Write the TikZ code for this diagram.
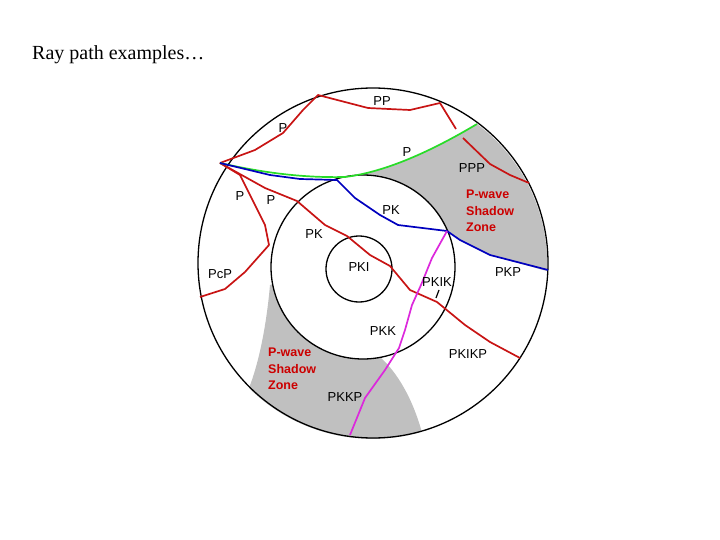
\documentclass[tikz,border=0pt]{standalone}
\usepackage{fontspec}
\setmainfont{Liberation Sans}
\newfontfamily\titlefont{Liberation Serif}
\begin{document}
\begin{tikzpicture}[x=1pt,y=-1pt,
  ray/.style={line width=1.7pt,line join=round},
  lbl/.style={font=\fontsize{13}{14}\selectfont,inner sep=0pt},
  sz/.style={font=\bfseries\fontsize{12.5}{16.5}\selectfont,text=red!80!black,align=left,inner sep=0pt}]
\useasboundingbox (0,0) rectangle (720,540);
\definecolor{rr}{RGB}{200,20,20}
\definecolor{bb}{RGB}{0,0,190}
\definecolor{gg}{RGB}{40,220,40}
\definecolor{mm}{RGB}{220,40,220}
\definecolor{gz}{RGB}{192,192,192}
\coordinate (C) at (373,263);
\coordinate (K) at (363,267);
% upper shadow zone
\fill[gz] (345,177) .. controls (385,172) and (430,152) .. (477,124)
  arc[start angle=-53.2,end angle=2.3,radius=175]
  -- (490,255) -- (460,240) -- (447,231)
  arc[start angle=-23.2,end angle=-101.3,radius=92] -- cycle;
% lower shadow zone
\fill[gz] (270,285) .. controls (266,330) and (258,365) .. (249,388)
  arc[start angle=134.8,end angle=73.6,radius=175]
  .. controls (413,400) and (398,373) .. (380,357)
  arc[start angle=79.3,end angle=169,radius=92] -- cycle;
\draw[line width=1.3pt] (C) circle[radius=175];
\draw[line width=1.3pt] (K) circle[radius=92];
\draw[line width=1.3pt] (359,269) circle[radius=33];
\coordinate (S) at (220,163);
% red rays
\draw[ray,rr] (S) -- (255,150) -- (283,133) -- (303,110) -- (318,95)
  -- (368,108) -- (410,110) -- (440,103) -- (456,129);
\draw[ray,rr] (463,138) -- (490,164) -- (510,175) -- (529,183);
\draw[ray,rr] (S) -- (265,188) -- (297,201) -- (325,225) -- (347,236) -- (370,255)
  -- (390,266) -- (410,290) -- (437,302) -- (465,325) -- (490,342) -- (520,358);
\draw[ray,rr] (S) -- (240,175) -- (250,195) -- (265,225) -- (269,245)
  -- (245,272) -- (225,289) -- (200,297);
\draw[line width=1.2pt] (436,298) -- (439,290);
% green
\draw[ray,gg] (S) .. controls (260,172) and (300,178) .. (345,177)
  .. controls (385,172) and (430,152) .. (477,124);
% blue
\draw[ray,bb] (S) -- (270,175) -- (300,179) -- (337,180) -- (355,198) -- (380,215)
  -- (398,225) -- (447,231) -- (460,240) -- (490,255) -- (548,270);
% magenta
\draw[ray,mm] (447,231) -- (432,258) -- (421,285) -- (412,305) -- (405,330) -- (399,348)
  -- (385,370) -- (365,398) -- (350,435);
% labels
\node[lbl] (t1) at (382,101) {PP};
\node[lbl] (t2) at (283,128) {P};
\node[lbl] (t3) at (407,152) {P};
\node[lbl] (t4) at (472,168) {PPP};
\node[lbl] (t5) at (240,196) {P};
\node[lbl] (t6) at (271,200) {P};
\node[lbl] (t7) at (391,210) {PK};
\node[lbl] (t8) at (314,234) {PK};
\node[lbl] (t9) at (359,267) {PKI};
\node[lbl] (t10) at (220,274) {PcP};
\node[lbl] (t11) at (437,282) {PKIK};
\node[lbl] (t12) at (508,272) {PKP};
\node[lbl] (t13) at (383,331) {PKK};
\node[lbl] (t14) at (468,354) {PKIKP};
\node[lbl] (t15) at (345,397) {PKKP};
\node[sz,anchor=north west] (z1) at (466,190) {P-wave\\Shadow\\Zone};
\node[sz,anchor=north west] (z2) at (268,348) {P-wave\\Shadow\\Zone};
\node[anchor=west,inner sep=0pt,font=\titlefont\fontsize{20}{24}\selectfont] (title) at (32,55) {Ray path examples…};
\end{tikzpicture}
\end{document}
